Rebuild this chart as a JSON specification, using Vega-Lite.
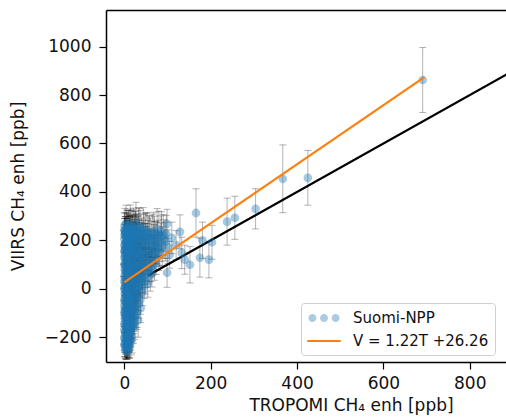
{
  "$schema": "https://vega.github.io/schema/vega-lite/v6.json",
  "autosize": {"type": "none"},
  "width": 400,
  "height": 352,
  "padding": {"left": 106, "top": 10, "right": 0, "bottom": 57},
  "background": "white",
  "config": {
    "font": "DejaVu Sans",
    "view": {"stroke": null},
    "axis": {"grid": false, "domainColor": "black", "domainWidth": 1.5, "tickColor": "black", "tickWidth": 1.2, "tickSize": 7, "labelFontSize": 17, "labelColor": "#111", "titleFontSize": 17, "titleFontWeight": "normal", "titleColor": "#111"},
    "legend": {
      "orient": "none", "legendX": 195, "legendY": 293, "title": null,
      "symbolSize": 256, "symbolOffset": 8, "labelOffset": 20, "padding": 6, "rowPadding": 6,
      "labelFontSize": 15, "labelColor": "#111", "fillColor": "white", "strokeColor": "#d0d0d0", "cornerRadius": 3
    }
  },
  "datasets": {
    "obs": [
      {"t":0,"v":245,"lo":175,"hi":315},{"t":3,"v":238,"lo":178,"hi":298},{"t":6,"v":250,"lo":175,"hi":325},{"t":10,"v":242,"lo":162,"hi":322},{"t":15,"v":236,"lo":171,"hi":301},{"t":22,"v":248,"lo":163,"hi":333},{"t":30,"v":240,"lo":170,"hi":310},{"t":40,"v":232,"lo":172,"hi":292},
      {"t":1,"v":220,"lo":150,"hi":290},{"t":4,"v":212,"lo":152,"hi":272},{"t":8,"v":225,"lo":145,"hi":305},{"t":12,"v":218,"lo":143,"hi":293},{"t":18,"v":210,"lo":145,"hi":275},{"t":25,"v":228,"lo":138,"hi":318},{"t":35,"v":215,"lo":145,"hi":285},{"t":45,"v":222,"lo":137,"hi":307},{"t":55,"v":208,"lo":133,"hi":283},{"t":65,"v":218,"lo":128,"hi":308},{"t":80,"v":225,"lo":130,"hi":320},{"t":92,"v":205,"lo":125,"hi":285},
      {"t":0,"v":180,"lo":120,"hi":240},{"t":2,"v":170,"lo":115,"hi":225},{"t":5,"v":190,"lo":120,"hi":260},{"t":9,"v":165,"lo":105,"hi":225},{"t":14,"v":185,"lo":110,"hi":260},{"t":20,"v":172,"lo":107,"hi":237},{"t":28,"v":195,"lo":115,"hi":275},{"t":38,"v":160,"lo":100,"hi":220},{"t":50,"v":182,"lo":107,"hi":257},{"t":62,"v":168,"lo":98,"hi":238},{"t":75,"v":190,"lo":105,"hi":275},{"t":88,"v":176,"lo":96,"hi":256},
      {"t":0,"v":130,"lo":75,"hi":185},{"t":3,"v":118,"lo":68,"hi":168},{"t":7,"v":140,"lo":80,"hi":200},{"t":11,"v":122,"lo":67,"hi":177},{"t":16,"v":135,"lo":70,"hi":200},{"t":23,"v":110,"lo":60,"hi":160},{"t":32,"v":145,"lo":75,"hi":215},{"t":42,"v":128,"lo":68,"hi":188},{"t":55,"v":115,"lo":60,"hi":170},{"t":68,"v":140,"lo":70,"hi":210},{"t":80,"v":150,"lo":75,"hi":225},
      {"t":1,"v":80,"lo":25,"hi":135},{"t":4,"v":65,"lo":15,"hi":115},{"t":8,"v":90,"lo":30,"hi":150},{"t":13,"v":70,"lo":15,"hi":125},{"t":19,"v":85,"lo":25,"hi":145},{"t":27,"v":60,"lo":10,"hi":110},{"t":36,"v":95,"lo":30,"hi":160},{"t":46,"v":72,"lo":17,"hi":127},{"t":58,"v":88,"lo":28,"hi":148},{"t":70,"v":100,"lo":35,"hi":165},
      {"t":0,"v":30,"lo":-25,"hi":85},{"t":2,"v":15,"lo":-35,"hi":65},{"t":6,"v":40,"lo":-20,"hi":100},{"t":10,"v":20,"lo":-35,"hi":75},{"t":15,"v":35,"lo":-25,"hi":95},{"t":21,"v":10,"lo":-40,"hi":60},{"t":29,"v":45,"lo":-15,"hi":105},{"t":38,"v":25,"lo":-30,"hi":80},{"t":48,"v":38,"lo":-22,"hi":98},{"t":60,"v":55,"lo":-10,"hi":120},
      {"t":1,"v":-20,"lo":-75,"hi":35},{"t":4,"v":-35,"lo":-90,"hi":20},{"t":8,"v":-10,"lo":-60,"hi":40},{"t":12,"v":-40,"lo":-100,"hi":20},{"t":18,"v":-25,"lo":-80,"hi":30},{"t":25,"v":-5,"lo":-55,"hi":45},{"t":33,"v":-30,"lo":-90,"hi":30},{"t":42,"v":-15,"lo":-70,"hi":40},
      {"t":0,"v":-70,"lo":-125,"hi":-15},{"t":3,"v":-85,"lo":-145,"hi":-25},{"t":7,"v":-60,"lo":-115,"hi":-5},{"t":11,"v":-90,"lo":-150,"hi":-30},{"t":16,"v":-75,"lo":-135,"hi":-15},{"t":22,"v":-65,"lo":-120,"hi":-10},{"t":30,"v":-95,"lo":-160,"hi":-30},{"t":38,"v":-80,"lo":-140,"hi":-20},
      {"t":1,"v":-120,"lo":-180,"hi":-60},{"t":4,"v":-135,"lo":-200,"hi":-70},{"t":8,"v":-110,"lo":-170,"hi":-50},{"t":12,"v":-140,"lo":-210,"hi":-70},{"t":17,"v":-125,"lo":-190,"hi":-60},{"t":24,"v":-115,"lo":-175,"hi":-55},{"t":32,"v":-130,"lo":-200,"hi":-60},
      {"t":0,"v":-170,"lo":-230,"hi":-110},{"t":3,"v":-185,"lo":-250,"hi":-120},{"t":6,"v":-160,"lo":-220,"hi":-100},{"t":10,"v":-190,"lo":-260,"hi":-120},{"t":15,"v":-175,"lo":-240,"hi":-110},{"t":21,"v":-165,"lo":-225,"hi":-105},
      {"t":2,"v":-220,"lo":-270,"hi":-170},{"t":5,"v":-235,"lo":-290,"hi":-180},{"t":9,"v":-215,"lo":-265,"hi":-165},{"t":13,"v":-230,"lo":-285,"hi":-175},{"t":4,"v":-255,"lo":-290,"hi":-220},{"t":8,"v":-245,"lo":-285,"hi":-205},
      {"t":2,"v":232,"lo":167,"hi":297},{"t":5,"v":244,"lo":174,"hi":314},{"t":8,"v":236,"lo":161,"hi":311},{"t":13,"v":249,"lo":169,"hi":329},{"t":19,"v":230,"lo":160,"hi":300},{"t":26,"v":241,"lo":161,"hi":321},{"t":35,"v":247,"lo":162,"hi":332},{"t":48,"v":238,"lo":163,"hi":313},
      {"t":0,"v":205,"lo":145,"hi":265},{"t":3,"v":228,"lo":158,"hi":298},{"t":6,"v":215,"lo":150,"hi":280},{"t":10,"v":200,"lo":140,"hi":260},{"t":15,"v":224,"lo":149,"hi":299},{"t":21,"v":206,"lo":136,"hi":276},{"t":30,"v":219,"lo":139,"hi":299},{"t":40,"v":203,"lo":133,"hi":273},{"t":50,"v":226,"lo":141,"hi":311},{"t":60,"v":212,"lo":132,"hi":292},{"t":72,"v":202,"lo":127,"hi":277},{"t":85,"v":216,"lo":131,"hi":301},
      {"t":1,"v":158,"lo":103,"hi":213},{"t":4,"v":195,"lo":125,"hi":265},{"t":7,"v":152,"lo":97,"hi":207},{"t":12,"v":176,"lo":111,"hi":241},{"t":17,"v":160,"lo":100,"hi":220},{"t":24,"v":188,"lo":113,"hi":263},{"t":33,"v":155,"lo":95,"hi":215},{"t":44,"v":192,"lo":117,"hi":267},{"t":56,"v":158,"lo":93,"hi":223},{"t":68,"v":185,"lo":105,"hi":265},{"t":82,"v":162,"lo":92,"hi":232},{"t":95,"v":195,"lo":115,"hi":275},
      {"t":1,"v":102,"lo":52,"hi":152},{"t":5,"v":128,"lo":73,"hi":183},{"t":9,"v":146,"lo":86,"hi":206},{"t":14,"v":105,"lo":55,"hi":155},{"t":19,"v":148,"lo":83,"hi":213},{"t":27,"v":125,"lo":65,"hi":185},{"t":37,"v":103,"lo":48,"hi":158},{"t":48,"v":138,"lo":73,"hi":203},{"t":61,"v":108,"lo":53,"hi":163},{"t":74,"v":124,"lo":59,"hi":189},
      {"t":0,"v":52,"lo":2,"hi":102},{"t":3,"v":96,"lo":36,"hi":156},{"t":6,"v":55,"lo":5,"hi":105},{"t":10,"v":78,"lo":23,"hi":133},{"t":16,"v":98,"lo":38,"hi":158},{"t":23,"v":52,"lo":2,"hi":102},{"t":31,"v":75,"lo":20,"hi":130},{"t":41,"v":58,"lo":3,"hi":113},{"t":52,"v":92,"lo":32,"hi":152},{"t":64,"v":62,"lo":7,"hi":117},
      {"t":1,"v":2,"lo":-48,"hi":52},{"t":4,"v":44,"lo":-11,"hi":99},{"t":8,"v":5,"lo":-45,"hi":55},{"t":12,"v":48,"lo":-12,"hi":108},{"t":18,"v":18,"lo":-37,"hi":73},{"t":25,"v":32,"lo":-23,"hi":87},{"t":33,"v":4,"lo":-46,"hi":54},{"t":43,"v":47,"lo":-13,"hi":107},{"t":54,"v":20,"lo":-35,"hi":75},
      {"t":0,"v":-45,"lo":-100,"hi":10},{"t":3,"v":-8,"lo":-58,"hi":42},{"t":6,"v":-28,"lo":-83,"hi":27},{"t":10,"v":-48,"lo":-108,"hi":12},{"t":15,"v":-12,"lo":-62,"hi":38},{"t":21,"v":-38,"lo":-93,"hi":17},{"t":29,"v":-18,"lo":-73,"hi":37},{"t":37,"v":-45,"lo":-105,"hi":15},
      {"t":2,"v":-98,"lo":-158,"hi":-38},{"t":5,"v":-55,"lo":-110,"hi":0},{"t":9,"v":-78,"lo":-138,"hi":-18},{"t":13,"v":-58,"lo":-113,"hi":-3},{"t":19,"v":-92,"lo":-157,"hi":-27},{"t":26,"v":-70,"lo":-130,"hi":-10},{"t":34,"v":-62,"lo":-122,"hi":-2},
      {"t":0,"v":-148,"lo":-213,"hi":-83},{"t":3,"v":-105,"lo":-165,"hi":-45},{"t":6,"v":-128,"lo":-193,"hi":-63},{"t":10,"v":-115,"lo":-175,"hi":-55},{"t":14,"v":-150,"lo":-220,"hi":-80},{"t":20,"v":-138,"lo":-203,"hi":-73},{"t":28,"v":-108,"lo":-168,"hi":-48},
      {"t":1,"v":-198,"lo":-263,"hi":-133},{"t":5,"v":-155,"lo":-215,"hi":-95},{"t":8,"v":-178,"lo":-243,"hi":-113},{"t":12,"v":-162,"lo":-222,"hi":-102},{"t":18,"v":-195,"lo":-265,"hi":-125},{"t":24,"v":-150,"lo":-210,"hi":-90},
      {"t":0,"v":-205,"lo":-255,"hi":-155},{"t":3,"v":-240,"lo":-285,"hi":-195},{"t":7,"v":-228,"lo":-278,"hi":-178},{"t":11,"v":-205,"lo":-260,"hi":-150},{"t":16,"v":-218,"lo":-273,"hi":-163},{"t":6,"v":-262,"lo":-292,"hi":-232},
      {"t":1,"v":262,"lo":192,"hi":332},{"t":4,"v":270,"lo":195,"hi":345},{"t":9,"v":258,"lo":193,"hi":323},{"t":14,"v":266,"lo":186,"hi":346},{"t":20,"v":255,"lo":185,"hi":325},{"t":27,"v":272,"lo":187,"hi":357},{"t":33,"v":260,"lo":185,"hi":335},
      {"t":12,"v":233,"lo":163,"hi":303},{"t":17,"v":246,"lo":171,"hi":321},{"t":24,"v":235,"lo":165,"hi":305},{"t":38,"v":244,"lo":164,"hi":324},{"t":44,"v":250,"lo":165,"hi":335},{"t":53,"v":240,"lo":165,"hi":315},{"t":58,"v":230,"lo":160,"hi":300},{"t":68,"v":236,"lo":156,"hi":316},{"t":76,"v":246,"lo":161,"hi":331},{"t":86,"v":238,"lo":158,"hi":318},{"t":97,"v":228,"lo":153,"hi":303},
      {"t":7,"v":205,"lo":140,"hi":270},{"t":11,"v":228,"lo":158,"hi":298},{"t":23,"v":216,"lo":146,"hi":286},{"t":28,"v":204,"lo":139,"hi":269},{"t":33,"v":226,"lo":151,"hi":301},{"t":42,"v":212,"lo":142,"hi":282},{"t":48,"v":200,"lo":130,"hi":270},{"t":57,"v":222,"lo":142,"hi":302},{"t":63,"v":204,"lo":129,"hi":279},{"t":70,"v":220,"lo":140,"hi":300},{"t":77,"v":208,"lo":133,"hi":283},{"t":90,"v":222,"lo":137,"hi":307},
      {"t":3,"v":165,"lo":105,"hi":225},{"t":8,"v":188,"lo":118,"hi":258},{"t":11,"v":160,"lo":100,"hi":220},{"t":16,"v":172,"lo":107,"hi":237},{"t":22,"v":196,"lo":126,"hi":266},{"t":26,"v":164,"lo":104,"hi":224},{"t":31,"v":180,"lo":110,"hi":250},{"t":36,"v":192,"lo":117,"hi":267},{"t":41,"v":170,"lo":105,"hi":235},{"t":47,"v":160,"lo":100,"hi":220},{"t":53,"v":194,"lo":119,"hi":269},{"t":59,"v":176,"lo":106,"hi":246},{"t":65,"v":156,"lo":91,"hi":221},{"t":71,"v":172,"lo":102,"hi":242},{"t":78,"v":168,"lo":98,"hi":238},{"t":85,"v":192,"lo":112,"hi":272},
      {"t":2,"v":142,"lo":87,"hi":197},{"t":6,"v":112,"lo":62,"hi":162},{"t":13,"v":148,"lo":88,"hi":208},{"t":18,"v":118,"lo":63,"hi":173},{"t":21,"v":140,"lo":80,"hi":200},{"t":29,"v":112,"lo":57,"hi":167},{"t":35,"v":132,"lo":72,"hi":192},{"t":39,"v":148,"lo":83,"hi":213},{"t":45,"v":115,"lo":60,"hi":170},{"t":51,"v":142,"lo":77,"hi":207},{"t":58,"v":128,"lo":68,"hi":188},{"t":64,"v":112,"lo":57,"hi":167},{"t":72,"v":145,"lo":80,"hi":210},
      {"t":2,"v":70,"lo":15,"hi":125},{"t":5,"v":88,"lo":33,"hi":143},{"t":11,"v":58,"lo":8,"hi":108},{"t":15,"v":84,"lo":29,"hi":139},{"t":21,"v":70,"lo":15,"hi":125},{"t":25,"v":92,"lo":32,"hi":152},{"t":33,"v":64,"lo":9,"hi":119},{"t":39,"v":82,"lo":27,"hi":137},{"t":44,"v":96,"lo":36,"hi":156},{"t":49,"v":60,"lo":5,"hi":115},{"t":55,"v":75,"lo":20,"hi":130},{"t":62,"v":90,"lo":30,"hi":150},
      {"t":3,"v":26,"lo":-29,"hi":81},{"t":5,"v":8,"lo":-42,"hi":58},{"t":9,"v":34,"lo":-21,"hi":89},{"t":13,"v":12,"lo":-38,"hi":62},{"t":17,"v":42,"lo":-13,"hi":97},{"t":23,"v":24,"lo":-31,"hi":79},{"t":27,"v":6,"lo":-44,"hi":56},{"t":31,"v":30,"lo":-25,"hi":85},{"t":36,"v":14,"lo":-36,"hi":64},{"t":41,"v":40,"lo":-15,"hi":95},{"t":46,"v":10,"lo":-40,"hi":60},
      {"t":2,"v":-32,"lo":-87,"hi":23},{"t":5,"v":-2,"lo":-52,"hi":48},{"t":7,"v":-42,"lo":-97,"hi":13},{"t":11,"v":-18,"lo":-68,"hi":32},{"t":14,"v":-32,"lo":-87,"hi":23},{"t":20,"v":-8,"lo":-58,"hi":42},{"t":23,"v":-45,"lo":-100,"hi":10},{"t":27,"v":-28,"lo":-83,"hi":27},{"t":31,"v":-2,"lo":-52,"hi":48},
      {"t":1,"v":-88,"lo":-148,"hi":-28},{"t":4,"v":-68,"lo":-123,"hi":-13},{"t":6,"v":-95,"lo":-155,"hi":-35},{"t":9,"v":-52,"lo":-107,"hi":3},{"t":14,"v":-88,"lo":-148,"hi":-28},{"t":18,"v":-62,"lo":-117,"hi":-7},{"t":24,"v":-85,"lo":-145,"hi":-25},
      {"t":2,"v":-112,"lo":-172,"hi":-52},{"t":5,"v":-145,"lo":-210,"hi":-80},{"t":7,"v":-122,"lo":-182,"hi":-62},{"t":11,"v":-132,"lo":-197,"hi":-67},{"t":15,"v":-110,"lo":-170,"hi":-50},{"t":19,"v":-148,"lo":-213,"hi":-83},{"t":22,"v":-125,"lo":-185,"hi":-65},
      {"t":2,"v":-180,"lo":-240,"hi":-120},{"t":4,"v":-162,"lo":-222,"hi":-102},{"t":7,"v":-195,"lo":-260,"hi":-130},{"t":10,"v":-170,"lo":-230,"hi":-110},{"t":13,"v":-185,"lo":-250,"hi":-120},{"t":17,"v":-158,"lo":-218,"hi":-98},
      {"t":1,"v":-232,"lo":-282,"hi":-182},{"t":4,"v":-212,"lo":-262,"hi":-162},{"t":6,"v":-245,"lo":-290,"hi":-200},{"t":10,"v":-228,"lo":-278,"hi":-178},{"t":12,"v":-242,"lo":-287,"hi":-197},
      {"t":1,"v":240,"lo":170,"hi":310},{"t":5,"v":225,"lo":160,"hi":290},{"t":9,"v":212,"lo":142,"hi":282},{"t":14,"v":200,"lo":135,"hi":265},{"t":18,"v":235,"lo":165,"hi":305},{"t":23,"v":225,"lo":155,"hi":295},{"t":28,"v":232,"lo":157,"hi":307},
      {"t":2,"v":190,"lo":130,"hi":250},{"t":6,"v":178,"lo":118,"hi":238},{"t":10,"v":186,"lo":121,"hi":251},{"t":15,"v":150,"lo":90,"hi":210},{"t":19,"v":180,"lo":115,"hi":245},{"t":25,"v":150,"lo":90,"hi":210},{"t":30,"v":168,"lo":103,"hi":233},{"t":35,"v":140,"lo":80,"hi":200},
      {"t":3,"v":135,"lo":80,"hi":190},{"t":8,"v":120,"lo":65,"hi":175},{"t":13,"v":92,"lo":37,"hi":147},{"t":17,"v":108,"lo":53,"hi":163},{"t":22,"v":88,"lo":33,"hi":143},{"t":28,"v":95,"lo":40,"hi":150},{"t":33,"v":100,"lo":40,"hi":160},{"t":40,"v":110,"lo":50,"hi":170},
      {"t":2,"v":40,"lo":-15,"hi":95},{"t":6,"v":68,"lo":13,"hi":123},{"t":11,"v":38,"lo":-17,"hi":93},{"t":16,"v":58,"lo":3,"hi":113},{"t":20,"v":30,"lo":-25,"hi":85},{"t":26,"v":50,"lo":-5,"hi":105},{"t":34,"v":36,"lo":-19,"hi":91},
      {"t":1,"v":-55,"lo":-110,"hi":0},{"t":4,"v":-15,"lo":-65,"hi":35},{"t":7,"v":-72,"lo":-127,"hi":-17},{"t":10,"v":-30,"lo":-85,"hi":25},{"t":13,"v":-75,"lo":-130,"hi":-20},{"t":17,"v":-45,"lo":-100,"hi":10},{"t":21,"v":-90,"lo":-150,"hi":-30},
      {"t":1,"v":-140,"lo":-200,"hi":-80},{"t":4,"v":-118,"lo":-178,"hi":-58},{"t":8,"v":-150,"lo":-210,"hi":-90},{"t":12,"v":-100,"lo":-160,"hi":-40},{"t":16,"v":-140,"lo":-205,"hi":-75},
      {"t":2,"v":-250,"lo":-290,"hi":-210},{"t":5,"v":-200,"lo":-255,"hi":-145},{"t":9,"v":-240,"lo":-285,"hi":-195},{"t":14,"v":-200,"lo":-255,"hi":-145},
      {"t":0,"v":100,"lo":50,"hi":150},{"t":0,"v":-100,"lo":-155,"hi":-45},{"t":0,"v":0,"lo":-50,"hi":50},{"t":0,"v":-230,"lo":-280,"hi":-180},{"t":0,"v":155,"lo":100,"hi":210},{"t":1,"v":225,"lo":160,"hi":290},
      {"t":691,"v":862,"lo":728,"hi":996},{"t":367,"v":454,"lo":314,"hi":594},{"t":425,"v":458,"lo":345,"hi":571},{"t":304,"v":330,"lo":247,"hi":413},{"t":256,"v":293,"lo":204,"hi":382},{"t":238,"v":277,"lo":180,"hi":374},{"t":166,"v":313,"lo":213,"hi":413},{"t":203,"v":192,"lo":122,"hi":262},{"t":181,"v":200,"lo":125,"hi":275},{"t":129,"v":235,"lo":165,"hi":305},{"t":99,"v":268,"lo":208,"hi":328},{"t":101,"v":173,"lo":103,"hi":243},{"t":175,"v":128,"lo":48,"hi":208},{"t":196,"v":120,"lo":45,"hi":195},{"t":152,"v":99,"lo":24,"hi":174},{"t":133,"v":148,"lo":83,"hi":213},{"t":99,"v":66,"lo":6,"hi":126},{"t":110,"v":210,"lo":145,"hi":275},{"t":120,"v":180,"lo":120,"hi":240},{"t":140,"v":120,"lo":60,"hi":180},{"t":105,"v":140,"lo":85,"hi":195}
    ],
    "oneToOne": [{"t": 55, "v": 55}, {"t": 900, "v": 900}],
    "fit": [{"t": 0, "v": 26.26}, {"t": 695, "v": 874.16}]
  },
  "resolve": {"axis": {"x": "independent"}},
  "layer": [
    {
      "data": {"name": "oneToOne"},
      "mark": {"type": "line", "color": "black", "strokeWidth": 2.2, "clip": true},
      "encoding": {
        "x": {"field": "t", "type": "quantitative", "scale": {"domain": [-42.4, 883.9], "nice": false, "zero": false}, "axis": null},
        "y": {"field": "v", "type": "quantitative", "scale": {"domain": [-302.5, 1151], "nice": false, "zero": false}}
      }
    },
    {
      "data": {"name": "obs"},
      "mark": {"type": "rule", "color": "black", "opacity": 0.3, "strokeWidth": 1},
      "encoding": {
        "x": {"field": "t", "type": "quantitative", "scale": {"domain": [-42.4, 883.9], "nice": false, "zero": false}, "axis": null},
        "y": {"field": "lo", "type": "quantitative", "scale": {"domain": [-302.5, 1151], "nice": false, "zero": false}},
        "y2": {"field": "hi"}
      }
    },
    {
      "data": {"name": "obs"},
      "mark": {"type": "tick", "orient": "horizontal", "size": 7, "thickness": 1, "color": "black", "opacity": 0.3},
      "encoding": {
        "x": {"field": "t", "type": "quantitative", "scale": {"domain": [-42.4, 883.9], "nice": false, "zero": false}, "axis": null},
        "y": {"field": "lo", "type": "quantitative", "scale": {"domain": [-302.5, 1151], "nice": false, "zero": false}}
      }
    },
    {
      "data": {"name": "obs"},
      "mark": {"type": "tick", "orient": "horizontal", "size": 7, "thickness": 1, "color": "black", "opacity": 0.3},
      "encoding": {
        "x": {"field": "t", "type": "quantitative", "scale": {"domain": [-42.4, 883.9], "nice": false, "zero": false}, "axis": null},
        "y": {"field": "hi", "type": "quantitative", "scale": {"domain": [-302.5, 1151], "nice": false, "zero": false}}
      }
    },
    {
      "data": {"name": "obs"},
      "mark": {"type": "circle", "size": 75, "opacity": 0.4},
      "encoding": {
        "x": {"field": "t", "type": "quantitative", "scale": {"domain": [-42.4, 883.9], "nice": false, "zero": false},
          "axis": {"values": [0, 200, 400, 600, 800], "labelPadding": 6, "title": "TROPOMI CH₄ enh [ppb]", "titleX": 245, "titleAlign": "center", "titlePadding": 6}},
        "y": {"field": "v", "type": "quantitative", "scale": {"domain": [-302.5, 1151], "nice": false, "zero": false},
          "axis": {"values": [-200, 0, 200, 400, 600, 800, 1000], "format": "d", "labelPadding": 8, "title": "VIIRS CH₄ enh [ppb]", "titlePadding": 17}},
        "color": {"datum": "Suomi-NPP", "type": "nominal",
          "scale": {"domain": ["Suomi-NPP", "V = 1.22T +26.26"], "range": ["#1f77b4", "#ff7f0e"]},
          "legend": {
            "encode": {"symbols": {"update": {
              "shape": {"signal": "datum.value === 'Suomi-NPP' ? 'M-1.95,0a0.5,0.5 0 1,0 1,0a0.5,0.5 0 1,0 -1,0Z M-0.5,0a0.5,0.5 0 1,0 1,0a0.5,0.5 0 1,0 -1,0Z M0.95,0a0.5,0.5 0 1,0 1,0a0.5,0.5 0 1,0 -1,0Z' : 'M-2.1,0L2.1,0'"},
              "fill": {"signal": "datum.value === 'Suomi-NPP' ? '#1f77b4' : 'transparent'"},
              "fillOpacity": {"signal": "datum.value === 'Suomi-NPP' ? 0.38 : 0"},
              "stroke": {"signal": "datum.value === 'Suomi-NPP' ? 'transparent' : '#ff7f0e'"},
              "strokeOpacity": {"signal": "datum.value === 'Suomi-NPP' ? 0 : 1"},
              "strokeWidth": {"value": 2},
              "opacity": {"value": 1},
              "size": {"value": 256}
            }}}
          }}
      }
    },
    {
      "data": {"name": "fit"},
      "mark": {"type": "line", "strokeWidth": 2.2},
      "encoding": {
        "x": {"field": "t", "type": "quantitative", "scale": {"domain": [-42.4, 883.9], "nice": false, "zero": false},
          "axis": {"orient": "top", "labels": false, "ticks": false, "title": null, "domainColor": "black", "domainWidth": 1.5}},
        "y": {"field": "v", "type": "quantitative", "scale": {"domain": [-302.5, 1151], "nice": false, "zero": false}},
        "color": {"datum": "V = 1.22T +26.26", "type": "nominal",
          "legend": {
            "encode": {"symbols": {"update": {
              "shape": {"signal": "datum.value === 'Suomi-NPP' ? 'M-1.95,0a0.5,0.5 0 1,0 1,0a0.5,0.5 0 1,0 -1,0Z M-0.5,0a0.5,0.5 0 1,0 1,0a0.5,0.5 0 1,0 -1,0Z M0.95,0a0.5,0.5 0 1,0 1,0a0.5,0.5 0 1,0 -1,0Z' : 'M-2.1,0L2.1,0'"},
              "fill": {"signal": "datum.value === 'Suomi-NPP' ? '#1f77b4' : 'transparent'"},
              "fillOpacity": {"signal": "datum.value === 'Suomi-NPP' ? 0.38 : 0"},
              "stroke": {"signal": "datum.value === 'Suomi-NPP' ? 'transparent' : '#ff7f0e'"},
              "strokeOpacity": {"signal": "datum.value === 'Suomi-NPP' ? 0 : 1"},
              "strokeWidth": {"value": 2},
              "opacity": {"value": 1},
              "size": {"value": 256}
            }}}
          }}
      }
    }
  ]
}
